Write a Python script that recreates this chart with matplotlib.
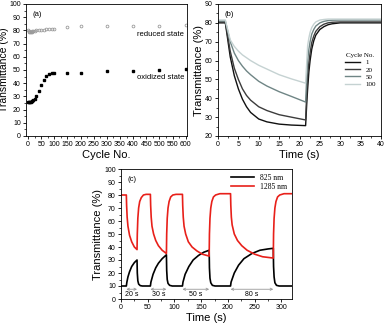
import matplotlib
matplotlib.use('Agg')
import matplotlib.pyplot as plt
from matplotlib.ticker import MultipleLocator

# (a) cycle stability
cyc_ox = [1, 3, 5, 8, 10, 13, 16, 20, 25, 30, 40, 50, 60, 70, 80, 90, 100, 150, 200, 300, 400, 500, 600]
t_ox = [25.5, 25.5, 25.6, 25.8, 26, 26.3, 26.7, 27.2, 28.3, 30.2, 34.2, 38.3, 42.2, 45.2, 46.8, 47.6, 48, 47.5, 48, 49, 49.5, 50.2, 51]
cyc_red = [1, 3, 5, 8, 10, 13, 16, 20, 25, 30, 40, 50, 60, 70, 80, 90, 100, 150, 200, 300, 400, 500, 600]
t_red = [80, 79.5, 79, 78.8, 78.8, 79, 79.3, 79.6, 79.8, 80, 80.3, 80.5, 80.6, 80.8, 81, 81, 81.2, 82.5, 83, 83, 83.5, 83.5, 84]

# (b) single switching at different cycle numbers
time_b = [0, 1.8, 3, 4, 5, 6, 7, 8, 10, 12, 15, 18, 21.5, 21.8, 22, 22.3, 22.6, 23, 23.5, 24, 25, 26, 27, 28, 30, 33, 40]
b_cycles = ['1', '20', '50', '100']
b_vals = [
    [80, 80, 62, 52, 45, 39.5, 35.5, 32.5, 29, 27.5, 26.3, 25.8, 25.5, 38, 45, 54, 60, 66, 70.5, 73.5, 76.5, 78, 79, 79.5, 80, 80, 80],
    [80.5, 80.5, 65, 56, 50, 45, 41.5, 39, 35.5, 33.5, 31.3, 30, 28.5, 44, 52, 59, 64, 69.5, 73, 75.5, 78, 79.3, 80, 80.3, 80.5, 80.5, 80.5],
    [81, 81, 70, 64, 60, 57, 54.5, 52.5, 49, 46.5, 43.5, 41, 38, 52, 60, 66, 70, 74, 76.5, 78.3, 80, 80.8, 81.2, 81.4, 81.5, 81.5, 81.5],
    [81.5, 81.5, 71, 67.5, 65, 63, 61.5, 60, 57.5, 55.5, 52.5, 50.3, 48, 60, 68, 72, 75, 77.5, 79.3, 80.5, 81.5, 81.8, 82, 82, 82, 82, 82],
]
b_colors = ['#111111', '#3c3c3c', '#6f8585', '#c5d2d2']

# (c) multi-step switching
time_825 = [0, 10, 11, 13, 16, 20, 25, 30, 30.5, 31.5, 33, 36, 40, 55, 56, 60, 65, 70, 77, 85, 85.5, 86.5, 88, 91, 96,
            115, 116, 120, 127, 135, 145, 155, 165, 165.5, 166.5, 168, 171, 176, 205, 206, 212, 220, 230, 245, 260,
            275, 285, 285.5, 286.5, 288, 291, 296, 320]
t_825 = [10, 10, 13, 17, 21, 25, 28, 30, 20, 14, 11.5, 10.3, 10, 10, 13, 19, 24, 27.5, 31, 34, 22, 15, 12, 10.5, 10,
         10, 13, 19, 25, 30, 33.5, 36, 37.5, 24, 16, 12.5, 10.5, 10, 10, 13, 20, 26, 31, 35, 37.5,
         38.5, 39, 25, 17, 12.5, 10.5, 10, 10]
time_1285 = [0, 10, 10.5, 11.5, 13, 16, 20, 25, 30, 30.5, 31.5, 33, 35, 38, 42, 47, 55, 55.5, 56.5, 58, 61, 65, 70, 77,
             85, 85.5, 86.5, 88, 90, 93, 97, 103, 115, 115.5, 116.5, 118, 121, 126, 133, 142, 152, 165, 165.5, 166.5,
             168, 170, 173, 177, 185, 205, 205.5, 206.5, 208, 212, 218, 226, 236, 250, 265, 285, 285.5, 286.5, 288,
             290, 293, 297, 305, 320]
t_1285 = [80, 80, 72, 63, 56, 49, 44, 40, 38, 50, 62, 70, 75, 78, 80, 80.5, 80.5, 72, 63, 56, 50, 45, 41, 37.5,
          35, 50, 62, 70, 75, 78.5, 80, 80.5, 80.5, 72, 63, 56, 50, 44, 40, 37, 34.5, 33, 50, 62,
          70, 75, 78.5, 80, 81, 81, 72, 63, 57, 50, 45, 41, 37.5, 34.5, 32.5, 31.5, 50, 62, 70,
          75, 78.5, 80, 81, 81]
step_start = [10, 55, 115, 205]
step_end = [30, 85, 165, 285]
step_labels = ['20 s', '30 s', '50 s', '80 s']

plt.rcParams['font.family'] = ['Liberation Sans', 'DejaVu Sans']
plt.rcParams['xtick.labelsize'] = 5
plt.rcParams['ytick.labelsize'] = 5
serif = ['Liberation Serif', 'DejaVu Serif']


def style(ax):
    ax.tick_params(which='major', length=2.5, width=0.6, pad=1.2)
    ax.tick_params(which='minor', length=1.5, width=0.5)
    for s in ax.spines.values():
        s.set_linewidth(0.6)


fig = plt.figure(figsize=(3.86, 3.23), dpi=100)
W, H = 386, 323

ax1 = fig.add_axes([26 / W, 1 - 136 / H, 161 / W, 132 / H])
ax1.plot(cyc_red, t_red, 'o', ms=2.0, mfc='none', mec='#9a9a9a', mew=0.6)
ax1.plot(cyc_ox, t_ox, 's', ms=1.8, color='black')
ax1.set_xlim(-8, 605)
ax1.set_ylim(0, 100)
ax1.xaxis.set_major_locator(MultipleLocator(50))
ax1.xaxis.set_minor_locator(MultipleLocator(25))
ax1.yaxis.set_major_locator(MultipleLocator(10))
ax1.yaxis.set_minor_locator(MultipleLocator(5))
ax1.set_xlabel('Cycle No.', fontsize=8, labelpad=1)
ax1.set_ylabel('Transmittance (%)', fontsize=7.5, labelpad=0.5)
ax1.text(0.04, 0.95, '(a)', transform=ax1.transAxes, fontsize=5.5, va='top')
ax1.text(505, 77, 'reduced state', fontsize=5.5, ha='center', va='center')
ax1.text(505, 44, 'oxidized state', fontsize=5.5, ha='center', va='center')
style(ax1)

ax2 = fig.add_axes([218 / W, 1 - 136 / H, 163 / W, 132 / H])
for lab, vals, col in zip(b_cycles, b_vals, b_colors):
    ax2.plot(time_b, vals, color=col, lw=1.0, label=lab)
ax2.set_xlim(0, 40)
ax2.set_ylim(20, 90)
ax2.xaxis.set_major_locator(MultipleLocator(5))
ax2.xaxis.set_minor_locator(MultipleLocator(2.5))
ax2.yaxis.set_major_locator(MultipleLocator(10))
ax2.yaxis.set_minor_locator(MultipleLocator(5))
ax2.set_xlabel('Time (s)', fontsize=8, labelpad=1)
ax2.set_ylabel('Transmittance (%)', fontsize=8, labelpad=1)
ax2.text(0.04, 0.95, '(b)', transform=ax2.transAxes, fontsize=5.5, va='top')
leg = ax2.legend(title='Cycle No.', frameon=False, loc='center right', bbox_to_anchor=(1.0, 0.5),
                 prop={'family': serif, 'size': 5}, handlelength=2.2, labelspacing=0.2, borderaxespad=0.3)
leg.get_title().set_fontfamily(serif)
leg.get_title().set_fontsize(5)
style(ax2)

ax3 = fig.add_axes([121 / W, 1 - 299 / H, 171 / W, 130 / H])
ax3.plot(time_825, t_825, color='black', lw=1.2, label='825 nm')
ax3.plot(time_1285, t_1285, color='#e8201a', lw=1.2, label='1285 nm')
for s0, s1, lab in zip(step_start, step_end, step_labels):
    ax3.annotate('', xy=(s0, 7.5), xytext=(s1, 7.5),
                 arrowprops=dict(arrowstyle='<->', color='#999999', lw=0.6, shrinkA=0, shrinkB=0,
                                 mutation_scale=4))
    ax3.text((s0 + s1) / 2, 3.5, lab, fontsize=5, ha='center', va='center')
ax3.set_xlim(0, 320)
ax3.set_ylim(0, 100)
ax3.xaxis.set_major_locator(MultipleLocator(50))
ax3.xaxis.set_minor_locator(MultipleLocator(25))
ax3.yaxis.set_major_locator(MultipleLocator(10))
ax3.yaxis.set_minor_locator(MultipleLocator(5))
ax3.set_xlabel('Time (s)', fontsize=8, labelpad=1)
ax3.set_ylabel('Transmittance (%)', fontsize=8, labelpad=1)
ax3.text(0.04, 0.95, '(c)', transform=ax3.transAxes, fontsize=5.5, va='top')
ax3.legend(frameon=False, loc='upper right', prop={'family': serif, 'size': 5.5},
           handlelength=3, labelspacing=0.2, borderaxespad=0.2)
style(ax3)

fig.savefig('out.png', dpi=100)
